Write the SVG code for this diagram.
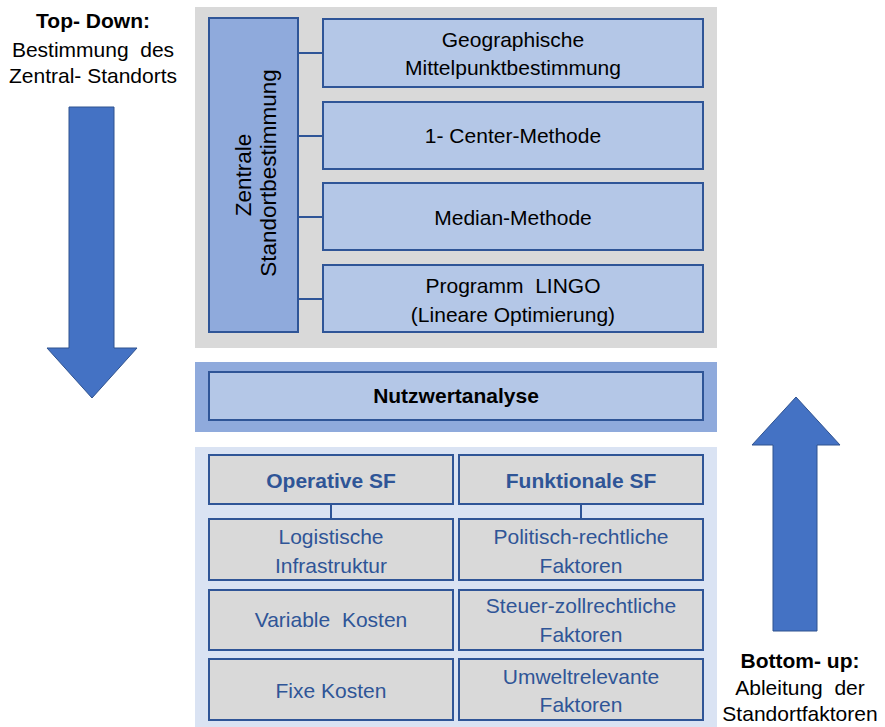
<svg xmlns="http://www.w3.org/2000/svg" width="885" height="727" viewBox="0 0 885 727">
<style>
text{font-family:"Liberation Sans",Arial,sans-serif;font-size:21px;text-anchor:middle}
.b{font-weight:bold}
.k{fill:#000}
.bl{fill:#2F5597}
.v{font-size:22.5px}
.box{fill:#B4C7E7;stroke:#2F5597;stroke-width:2}
.gbox{fill:#D9D9D9;stroke:#2F5597;stroke-width:2}
.con{stroke:#2F5597;stroke-width:2;fill:none}
.arrow{fill:#4472C4;stroke:#2F528F;stroke-width:1}
</style>
<rect width="885" height="727" fill="#fff"/>
<!-- panels -->
<rect x="195" y="7" width="522" height="341" fill="#D9D9D9"/>
<rect x="195" y="362" width="522" height="70" fill="#8FAADC"/>
<rect x="195" y="447" width="522" height="280" fill="#DAE3F3"/>
<!-- arrows -->
<g id="arrow-down">
<polygon class="arrow" points="69,107 114,107 114,348 137,348 92,398 47,348 69,348"/>
<text class="k b" x="93" y="28">Top- Down:</text>
<text class="k" x="93" y="57" xml:space="preserve">Bestimmung  des</text>
<text class="k" x="93" y="83">Zentral- Standorts</text>
</g>
<g id="arrow-up">
<polygon class="arrow" points="796,397 840,445 817,445 817,631 773,631 773,445 752,445"/>
<text class="k b" x="800" y="668">Bottom- up:</text>
<text class="k" x="800" y="695" xml:space="preserve">Ableitung  der</text>
<text class="k" x="800" y="721">Standortfaktoren</text>
</g>
<!-- connectors -->
<g id="connectors">
<path class="con" d="M298,53H323M298,136H323M298,217H323M298,299H323M331,504V519M581,504V519"/>
</g>
<g id="zentrale">
<rect x="209" y="18" width="89" height="314" fill="#8FAADC" stroke="#2F5597" stroke-width="2"/>
<text class="k v" transform="translate(251,175) rotate(-90)">Zentrale</text>
<text class="k v" transform="translate(276,173) rotate(-90)">Standortbestimmung</text>
</g>
<g id="geo">
<rect class="box" x="323" y="19" width="380" height="68"/>
<text class="k" x="513" y="47">Geographische</text>
<text class="k" x="513" y="75">Mittelpunktbestimmung</text>
</g>
<g id="center">
<rect class="box" x="323" y="102" width="380" height="67"/>
<text class="k" x="513" y="143">1- Center-Methode</text>
</g>
<g id="median">
<rect class="box" x="323" y="183" width="380" height="67"/>
<text class="k" x="513" y="225">Median-Methode</text>
</g>
<g id="lingo">
<rect class="box" x="323" y="265" width="380" height="67"/>
<text class="k" x="513" y="293" xml:space="preserve">Programm  LINGO</text>
<text class="k" x="513" y="322">(Lineare Optimierung)</text>
</g>
<g id="nutzwert">
<rect class="box" x="209" y="372" width="494" height="48"/>
<text class="k b" x="456" y="403">Nutzwertanalyse</text>
</g>
<g id="operative">
<rect class="gbox" x="209" y="455" width="244" height="49"/>
<text class="bl b" x="331" y="488">Operative SF</text>
</g>
<g id="funktionale">
<rect class="gbox" x="459" y="455" width="244" height="49"/>
<text class="bl b" x="581" y="488">Funktionale SF</text>
</g>
<g id="logistik">
<rect class="gbox" x="209" y="519" width="244" height="61"/>
<text class="bl" x="331" y="544">Logistische</text>
<text class="bl" x="331" y="573">Infrastruktur</text>
</g>
<g id="variable">
<rect class="gbox" x="209" y="590" width="244" height="60"/>
<text class="bl" x="331" y="627" xml:space="preserve">Variable  Kosten</text>
</g>
<g id="fixe">
<rect class="gbox" x="209" y="659" width="244" height="61"/>
<text class="bl" x="331" y="698">Fixe Kosten</text>
</g>
<g id="politisch">
<rect class="gbox" x="459" y="519" width="244" height="61"/>
<text class="bl" x="581" y="544">Politisch-rechtliche</text>
<text class="bl" x="581" y="573">Faktoren</text>
</g>
<g id="steuer">
<rect class="gbox" x="459" y="590" width="244" height="60"/>
<text class="bl" x="581" y="613">Steuer-zollrechtliche</text>
<text class="bl" x="581" y="642">Faktoren</text>
</g>
<g id="umwelt">
<rect class="gbox" x="459" y="659" width="244" height="61"/>
<text class="bl" x="581" y="684">Umweltrelevante</text>
<text class="bl" x="581" y="712">Faktoren</text>
</g>
</svg>
